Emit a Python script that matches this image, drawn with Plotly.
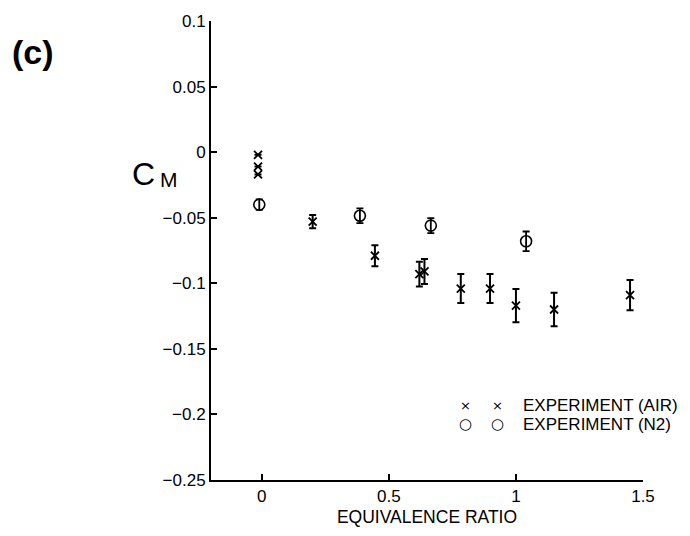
import plotly.graph_objects as go

# Pitching-moment coefficient versus equivalence ratio
air_phi = [-0.015, -0.015, -0.015, 0.20, 0.445, 0.62, 0.64, 0.783, 0.898, 1.0, 1.15, 1.449]
air_cm = [-0.002, -0.011, -0.017, -0.053, -0.079, -0.093, -0.091, -0.104, -0.104, -0.117, -0.120, -0.109]
air_err = [0.0, 0.0, 0.0, 0.005, 0.008, 0.0095, 0.0095, 0.011, 0.011, 0.0127, 0.0127, 0.0116]

n2_phi = [-0.01, 0.386, 0.665, 1.04]
n2_cm = [-0.040, -0.0485, -0.056, -0.068]
n2_err = [0.004, 0.0056, 0.0057, 0.0075]

x_ticks = [0, 0.5, 1, 1.5]
x_tick_text = ["0", "0.5", "1", "1.5"]
y_ticks = [0.1, 0.05, 0, -0.05, -0.1, -0.15, -0.2, -0.25]
y_tick_text = ["0.1", "0.05", "0", "\u22120.05", "\u22120.1", "\u22120.15", "\u22120.2", "\u22120.25"]

legend_labels = ["EXPERIMENT (AIR)", "EXPERIMENT (N2)"]

W, H = 690, 536
ML, MR, MT, MB = 211, 47, 18, 50
FONT = "Liberation Sans, Arial, Helvetica, sans-serif"


def px_to_paper(px, py):
    return (px - ML) / (W - ML - MR), (H - MB - py) / (H - MT - MB)


def add_text(annots, text, px, py, size, xanchor="center", family=FONT):
    x, y = px_to_paper(px, py)
    annots.append(dict(text=text, x=x, y=y, xref="paper", yref="paper",
                       xanchor=xanchor, yanchor="middle", showarrow=False, borderpad=0,
                       font=dict(family=family, size=size, color="black")))


fig = go.Figure()

fig.add_trace(go.Scatter(
    x=n2_phi, y=n2_cm, mode="markers",
    marker=dict(symbol="circle-open", size=11, color="black", line=dict(width=1.6, color="black")),
    error_y=dict(type="data", array=n2_err, visible=True, color="black", thickness=1.8, width=3.5),
    showlegend=False,
))

fig.add_trace(go.Scatter(
    x=air_phi, y=air_cm, mode="markers",
    marker=dict(symbol="x-thin-open", size=8, color="black", line=dict(width=1.8, color="black")),
    error_y=dict(type="data", array=air_err, visible=True, color="black", thickness=2, width=3.5),
    showlegend=False,
))

annotations = []

# panel label
add_text(annotations, "<b>(c)</b>", 33, 50, 34)

# y-axis symbol: large C with a subscript M
add_text(annotations, "C", 143, 174, 32)
add_text(annotations, "M", 169, 180, 21)

# key entries: two glyphs followed by the label
key_rows = [(410, "\u00d7", 13), (429, "\u25cb", 15)]
for (row_y, glyph, gsize), label in zip(key_rows, legend_labels):
    for gx in (465, 497):
        add_text(annotations, glyph, gx, row_y, gsize, family="DejaVu Sans, " + FONT)
    add_text(annotations, label, 522, row_y, 17, xanchor="left")

fig.update_layout(
    width=W, height=H,
    margin=dict(l=ML, r=MR, t=MT, b=MB),
    paper_bgcolor="white", plot_bgcolor="white",
    font=dict(family=FONT, size=17, color="black"),
    annotations=annotations,
    xaxis=dict(
        range=[-0.2, 1.5], tickvals=x_ticks, ticktext=x_tick_text,
        showline=True, linecolor="black", linewidth=2, mirror=False,
        ticks="inside", ticklen=6, tickwidth=1.6, tickcolor="black",
        showgrid=False, zeroline=False,
        title=dict(text="EQUIVALENCE RATIO", font=dict(size=17.5), standoff=5),
    ),
    yaxis=dict(
        range=[-0.25, 0.1], tickvals=y_ticks, ticktext=y_tick_text,
        showline=True, linecolor="black", linewidth=2, mirror=False,
        ticks="inside", ticklen=6, tickwidth=1.6, tickcolor="black",
        showgrid=False, zeroline=False,
    ),
)

fig.write_html("out.html")
